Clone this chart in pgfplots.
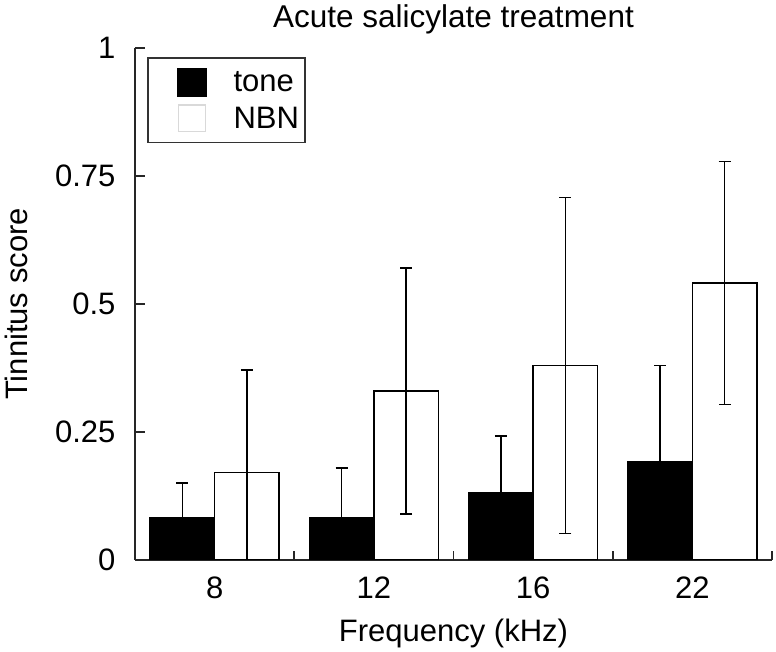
\documentclass[border=0pt]{standalone}
\usepackage{fontspec}
\setmainfont{Liberation Sans}
\usepackage{pgfplots}
\pgfplotsset{compat=1.18}
\begin{document}
\begin{tikzpicture}
\begin{axis}[
  scale only axis,
  width=637pt, height=512pt,
  xmin=-0.5, xmax=3.5, ymin=0, ymax=1,
  axis lines=left,
  axis line style={-, line width=1.8pt, black!85},
  ybar=0pt, bar width=0.405,
  xtick={0,1,2,3},
  xticklabels={8,12,16,22},
  major x tick style={draw=none},
  minor xtick={0.5,1.5,2.5,3.5},
  minor tick length=9pt,
  minor x tick style={line width=1.8pt, black!85},
  ytick={0,0.25,0.5,0.75,1},
  yticklabels={0,0.25,0.5,0.75,1},
  major tick length=10pt,
  tick align=inside,
  major y tick style={line width=1.8pt, black!85},
  tick label style={font=\fontsize{31}{34}\selectfont},
  /pgf/number format/assume math mode=true,
  xticklabel style={anchor=base, yshift=-39pt},
  yticklabel style={anchor=east, xshift=-16pt},
  title={Acute salicylate treatment},
  title style={font=\fontsize{31.5}{34}\selectfont, at={(axis description cs:0.5,1.045)}, anchor=base, yshift=-9pt},
  xlabel={Frequency (kHz)},
  xlabel style={font=\fontsize{31}{34}\selectfont, at={(axis description cs:0.5,-0.1596)}, anchor=base},
  ylabel={Tinnitus score},
  ylabel style={font=\fontsize{31}{34}\selectfont, at={(axis description cs:-0.2088,0.5)}, anchor=north},
  legend style={at={(axis description cs:0.019,0.982)}, anchor=north west,
    draw=black!80, line width=1.5pt, font=\fontsize{31}{34}\selectfont,
    inner xsep=0pt, inner ysep=10pt, row sep=7pt, column sep=7pt,
    nodes={inner sep=0pt},
    cells={anchor=west}},
  legend cell align=left,
  error bars/error bar style={line width=1.5pt, black},
  error bars/error mark options={rotate=90, line width=1.5pt, mark size=6pt, black},
]
\addplot+[fill=black, draw=black, line width=1.5pt,
  error bars/.cd, y dir=plus, y explicit,
  /pgfplots/legend image code/.code={\path[draw=none,fill=none] (-30pt,0pt) -- (28pt,0pt); \fill[black] (0pt,-14pt) rectangle (28pt,14pt);}]
  coordinates {(0,0.083) +- (0,0.067) (1,0.083) +- (0,0.097) (2,0.132) +- (0,0.11) (3,0.191) +- (0,0.189)};
\addlegendentry{\hspace*{20pt}tone}
\addplot+[fill=white, draw=black, line width=1.5pt,
  error bars/.cd, y dir=both, y explicit,
  /pgfplots/legend image code/.code={\path[draw=none,fill=none] (-30pt,0pt) -- (28pt,0pt); \draw[draw=black!15, fill=white, line width=1.2pt] (0.6pt,-13.4pt) rectangle (27.4pt,13.4pt);}]
  coordinates {(0,0.171) +- (0,0.200) (1,0.330) +- (0,0.240) (2,0.380) +- (0,0.328) (3,0.541) +- (0,0.237)};
\addlegendentry{\hspace*{20pt}NBN\hspace*{6pt}}
\end{axis}
\pgfresetboundingbox
\path (current axis.south west) ++(-135pt,-92pt) rectangle ++(776pt,652pt);
\end{tikzpicture}
\end{document}
